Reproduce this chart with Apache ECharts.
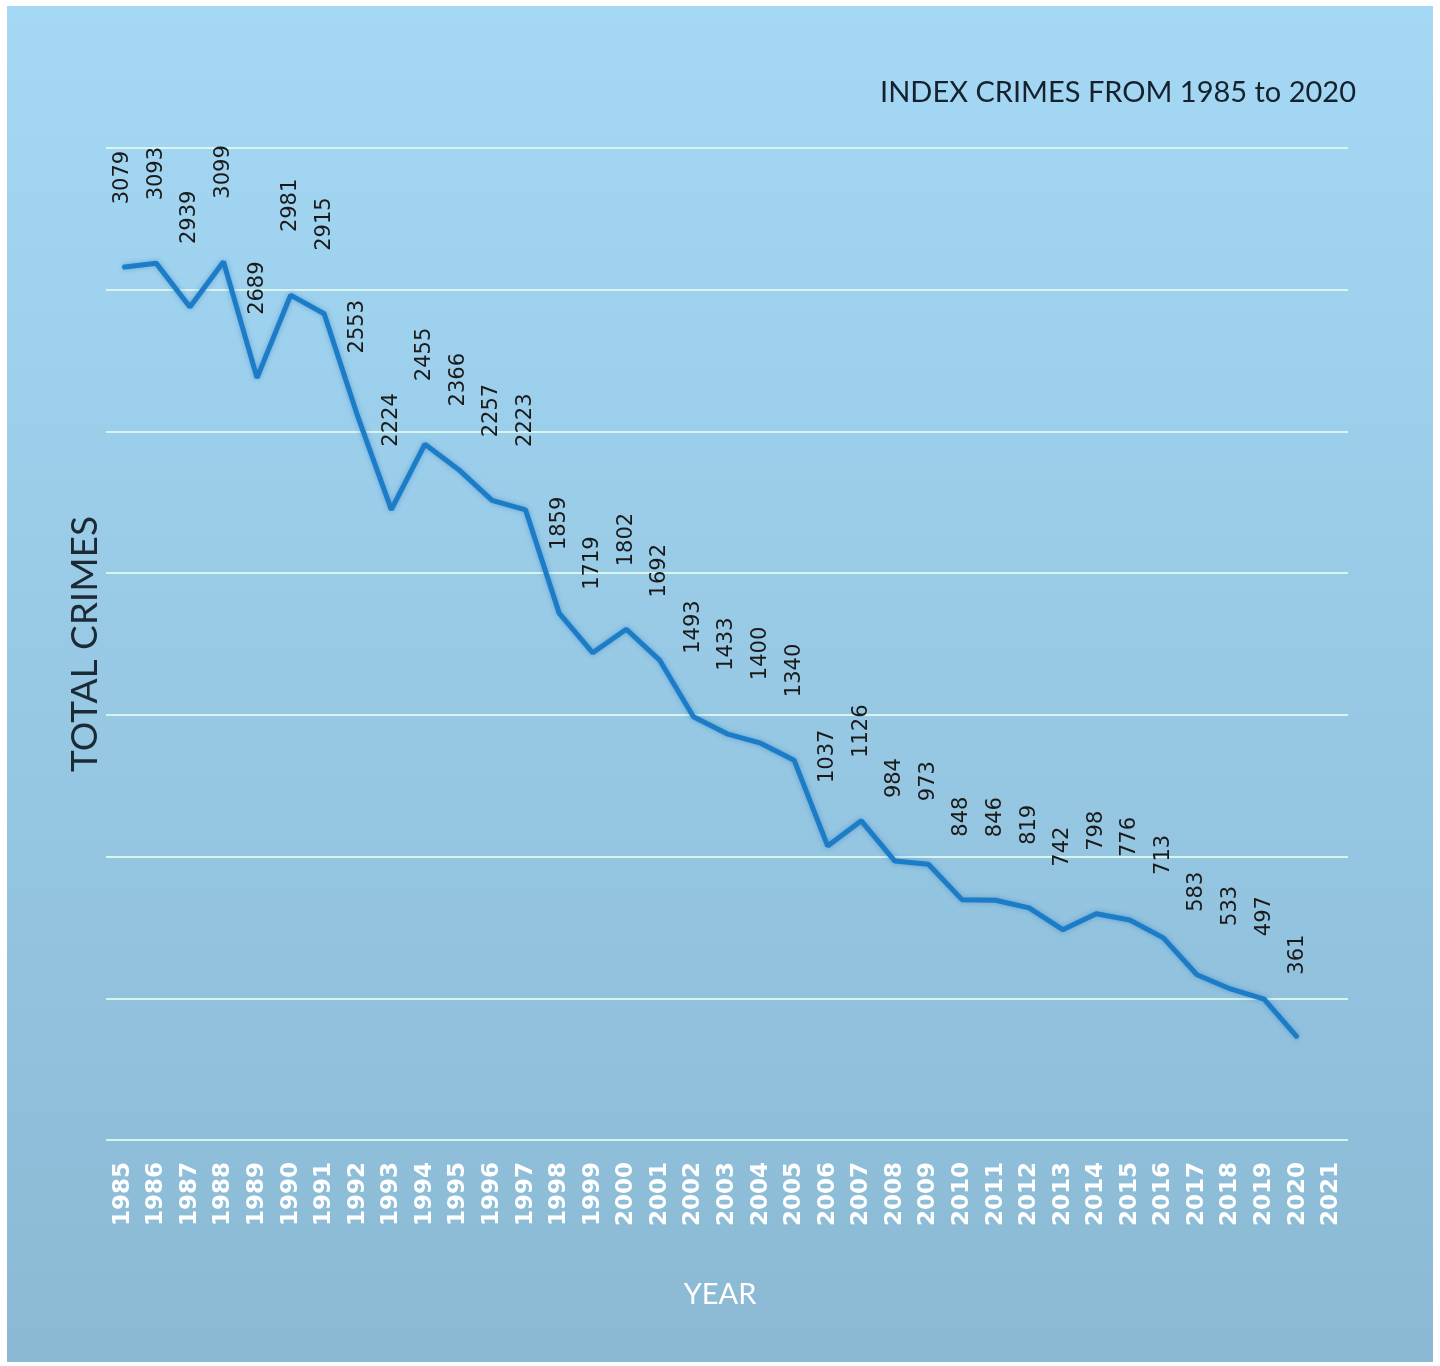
<!DOCTYPE html>
<html>
<head>
<meta charset="utf-8">
<script src="https://cdn.jsdelivr.net/npm/echarts@6/dist/echarts.min.js"></script>
<style>
  html, body { margin: 0; padding: 0; background: #ffffff; width: 1440px; height: 1366px; overflow: hidden; }
  #chart { position: absolute; left: 7px; top: 6px; width: 1426px; height: 1356px; }
</style>
</head>
<body>
<div id="chart"></div>
<script>
const years = ['1985','1986','1987','1988','1989','1990','1991','1992','1993','1994','1995','1996','1997','1998','1999','2000','2001','2002','2003','2004','2005','2006','2007','2008','2009','2010','2011','2012','2013','2014','2015','2016','2017','2018','2019','2020','2021'];
const totalCrimes = [3079,3093,2939,3099,2689,2981,2915,2553,2224,2455,2366,2257,2223,1859,1719,1802,1692,1493,1433,1400,1340,1037,1126,984,973,848,846,819,742,798,776,713,583,533,497,361];
const titleText = 'INDEX CRIMES FROM 1985 to 2020';
const yName = 'TOTAL CRIMES';
const xName = 'YEAR';

const chart = echarts.init(document.getElementById('chart'), null, { renderer: 'canvas' });
chart.setOption({
  backgroundColor: {
    type: 'linear', x: 0, y: 0, x2: 0, y2: 1,
    colorStops: [
      { offset: 0, color: '#a4d8f4' },
      { offset: 0.5, color: '#97c9e5' },
      { offset: 1, color: '#8bb9d4' }
    ]
  },
  animation: false,
  title: {
    text: titleText,
    right: 72,
    top: 67,
    textStyle: { fontFamily: 'Lato', fontSize: 29, fontWeight: 'normal', color: '#15222e' }
  },
  grid: { left: 99, right: 85, top: 142, bottom: 222 },
  xAxis: {
    type: 'category',
    data: years,
    boundaryGap: true,
    name: xName,
    nameLocation: 'middle',
    nameGap: 140,
    nameTextStyle: { fontFamily: 'Lato', fontSize: 29, color: '#ffffff', padding: [0, 14, 0, 0] },
    axisLine: { show: false },
    axisTick: { show: false },
    axisLabel: {
      rotate: 90,
      interval: 0,
      margin: 22,
      color: '#ffffff',
      fontFamily: 'DejaVu Sans',
      fontWeight: 'bold',
      fontSize: 23
    }
  },
  yAxis: {
    type: 'value',
    min: 0,
    max: 3500,
    interval: 500,
    name: yName,
    nameLocation: 'middle',
    nameRotate: 90,
    nameGap: 2,
    nameTextStyle: { fontFamily: 'Lato', fontSize: 37, color: '#1c2a36', verticalAlign: 'bottom' },
    axisLine: { show: false },
    axisTick: { show: false },
    axisLabel: { show: false },
    splitLine: { lineStyle: { color: 'rgba(222,248,238,0.9)', width: 2 } }
  },
  series: [{
    type: 'line',
    data: totalCrimes,
    showSymbol: true,
    showAllSymbol: true,
    symbol: 'circle',
    symbolSize: 2,
    itemStyle: { color: '#1d7cc6' },
    lineStyle: { color: '#1d7cc6', width: 5, shadowColor: 'rgba(20,110,200,0.45)', shadowBlur: 5 },
    label: {
      show: true,
      position: 'top',
      distance: 62,
      rotate: 90,
      align: 'left',
      verticalAlign: 'middle',
      color: '#1a1a1a',
      fontFamily: 'DejaVu Sans',
      fontSize: 21
    }
  }]
});
</script>
</body>
</html>
